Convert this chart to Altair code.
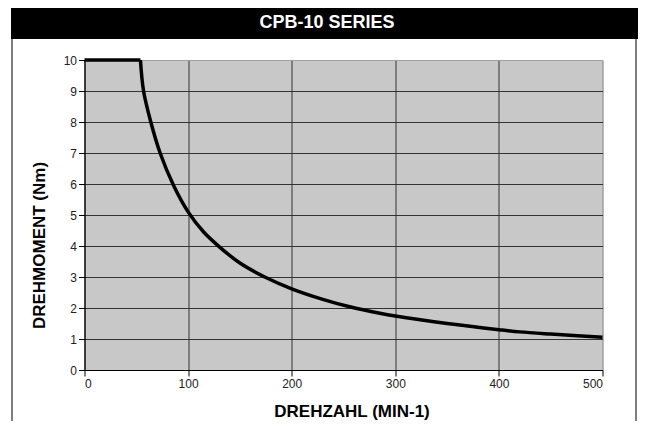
import altair as alt
import pandas as pd

title_text = ["CPB-10 SERIES"]
# flat (constant-torque) part
flat_speed = [0, 54]
flat_torque = [10, 10]
# falling (constant-power) part
curve_speed = [54, 57, 64, 73, 86, 100, 115, 131, 150, 174, 200, 230, 256, 285, 300, 350, 400, 420, 450, 500]
curve_torque = [10, 9, 8, 7, 5.95, 5.1, 4.45, 3.95, 3.45, 3.0, 2.62, 2.28, 2.04, 1.83, 1.74, 1.5, 1.3, 1.23, 1.16, 1.06]
x_ticks = [0, 100, 200, 300, 400, 500]
y_ticks = [0, 1, 2, 3, 4, 5, 6, 7, 8, 9, 10]

df = pd.concat([
    pd.DataFrame({"n": flat_speed, "m": flat_torque, "seg": "flat"}),
    pd.DataFrame({"n": curve_speed, "m": curve_torque, "seg": "curve"}),
], ignore_index=True)

PL, PT = 84.5, 60.0  # plot origin on page
W, H = 518, 310
TOTAL_W, TOTAL_H = 630, 413
RIGHT = 8 + TOTAL_W  # right edge of drawable page area

line = alt.Chart(df).mark_line(color="black", strokeWidth=3.5, interpolate="catmull-rom").encode(
    x=alt.X("n:Q", scale=alt.Scale(domain=[0, 500], nice=False),
            axis=alt.Axis(values=x_ticks, title="DREHZAHL (MIN-1)",
                          titleX=267, titleY=46, titleBaseline="alphabetic",
                          gridColor={"condition": {"test": "datum.value == 500", "value": "#a0a0a0"}, "value": "#333333"})),
    y=alt.Y("m:Q", scale=alt.Scale(domain=[0, 10], nice=False),
            axis=alt.Axis(values=y_ticks, title="DREHMOMENT (Nm)",
                          titleX=-40.5, titleY=185, titleAngle=270, titleAlign="center",
                          titleBaseline="alphabetic",
                          gridColor={"condition": {"test": "datum.value == 10", "value": "#a0a0a0"}, "value": "#333333"})),
    detail="seg:N",
    order="n:Q",
)

tdf = pd.DataFrame({"t": title_text})
bar = alt.Chart(tdf).mark_rect(color="black", clip=False).encode(
    x=alt.value(11 - PL), x2=alt.value(RIGHT - PL), y=alt.value(6 - PT), y2=alt.value(39 - PT))
txt = alt.Chart(tdf).mark_text(color="white", fontSize=18, fontWeight="bold", font="Liberation Sans",
                               baseline="middle", align="center", clip=False).encode(
    x=alt.value(327 - PL), y=alt.value(22.5 - PT), text="t:N")
frame_l = alt.Chart(tdf).mark_rule(color="#808080", strokeWidth=2, clip=False).encode(
    x=alt.value(12 - PL), y=alt.value(39 - PT), y2=alt.value(440 - PT))
frame_r = alt.Chart(tdf).mark_rule(color="#808080", strokeWidth=2, clip=False).encode(
    x=alt.value(RIGHT - 2 - PL), y=alt.value(39 - PT), y2=alt.value(440 - PT))

pad_l = PL - 8
pad_t = PT - 8
chart = alt.layer(line, bar, txt, frame_l, frame_r).properties(
    width=W, height=H,
    autosize=alt.AutoSizeParams(type="none"),
    padding={"left": pad_l, "top": pad_t, "right": TOTAL_W - pad_l - W, "bottom": TOTAL_H - pad_t - H},
    background="white",
).configure_view(
    fill="#c8c8c8", stroke="#a0a0a0", strokeWidth=1
).configure_axis(
    labelFont="'Liberation Sans Narrow', 'Liberation Sans'", labelFontSize=12, labelColor="#222222",
    titleFont="Liberation Sans", titleFontSize=17, titleFontWeight="bold", titleColor="black",
    domainColor="black", domainWidth=1, tickColor="black", tickSize=6, tickWidth=1,
    gridWidth=1, gridOpacity=1, labelPadding=2,
)

chart.save("out.html", embed_options={"renderer": "svg", "actions": False})
